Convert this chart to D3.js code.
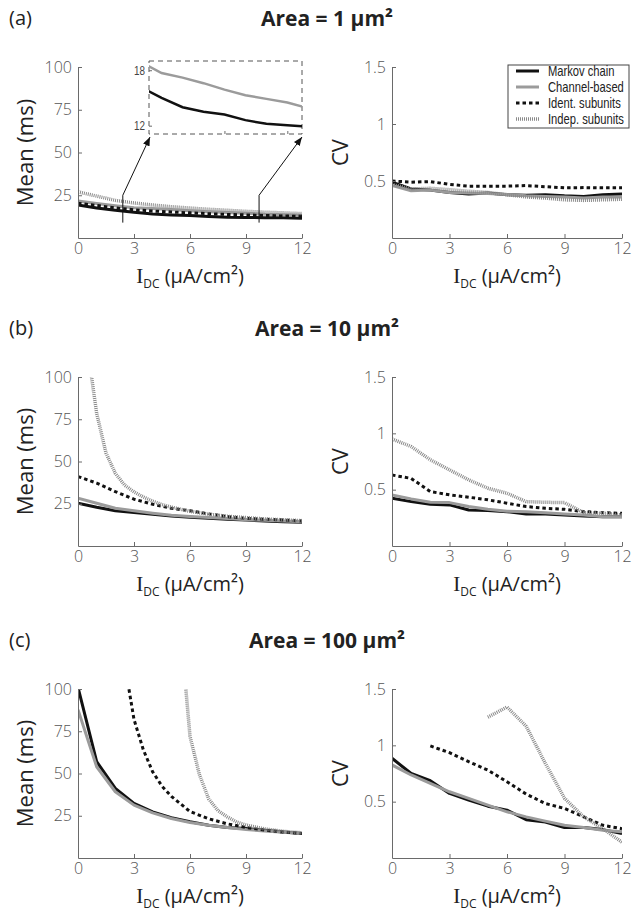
<!DOCTYPE html>
<html>
<head>
<meta charset="utf-8">
<script src="https://cdn.jsdelivr.net/npm/d3@7"></script>
<style>
  body { margin: 0; background: #fff; }
  text { font-family: "Open Sans", "Noto Sans", sans-serif; }
</style>
</head>
<body>
<div id="canvas"></div>
<script>
var width = 632
var height = 915

var current = [0, 1, 2, 3, 4, 5, 6, 7, 8, 9, 10, 11, 12]
var xTicks = [0, 3, 6, 9, 12]
var meanTicks = [25, 50, 75, 100]
var cvTicks = [0.5, 1, 1.5]
var legendNames = ["Markov chain", "Channel-based", "Ident. subunits", "Indep. subunits"]
var titles = ["Area = 1 \u03bcm\u00b2", "Area = 10 \u03bcm\u00b2", "Area = 100 \u03bcm\u00b2"]
var tags = ["(a)", "(b)", "(c)"]

// area = 1 um2
var mean1Markov = [19.3, 17.5, 16.2, 15.0, 14.0, 13.5, 13.2, 12.6, 12.2, 12.05, 11.9, 11.8, 11.6]
var mean1Channel = [21.6, 20.2, 18.9, 17.7, 17.2, 16.6, 15.9, 15.3, 14.9, 14.5, 13.9, 13.6, 13.3]
var mean1Ident = [20.3, 19.0, 17.6, 16.5, 15.8, 15.2, 14.7, 14.2, 13.8, 13.5, 13.2, 13.0, 12.8]
var mean1Indep = [27.0, 24.5, 22.0, 20.5, 19.3, 18.3, 17.5, 16.8, 16.2, 15.6, 15.1, 14.7, 14.3]
var cv1Markov = [0.49, 0.43, 0.42, 0.40, 0.385, 0.394, 0.38, 0.376, 0.38, 0.37, 0.365, 0.38, 0.385]
var cv1Channel = [0.46, 0.415, 0.42, 0.40, 0.395, 0.39, 0.382, 0.37, 0.365, 0.36, 0.35, 0.36, 0.36]
var cv1Ident = [0.50, 0.49, 0.495, 0.47, 0.455, 0.455, 0.455, 0.46, 0.45, 0.44, 0.442, 0.44, 0.44]
var cv1Indep = [0.47, 0.43, 0.436, 0.424, 0.41, 0.40, 0.38, 0.36, 0.35, 0.335, 0.33, 0.335, 0.34]

// area = 10 um2
var mean10Markov = [25.3, 22.9, 20.9, 19.8, 18.8, 17.8, 17.0, 16.4, 15.8, 15.4, 14.8, 14.4, 14.0]
var mean10Channel = [28.3, 25.3, 22.3, 20.8, 19.4, 18.2, 17.4, 16.8, 16.2, 15.6, 15.2, 14.8, 14.4]
var mean10Ident = [41.1, 37.2, 32.2, 27.7, 24.7, 22.3, 20.8, 19.0, 17.4, 16.4, 15.8, 15.4, 14.8]
var current10Indep = [0.5, 1, 1.5, 2, 2.5, 3, 3.5, 4, 4.5, 5, 6, 7, 8, 9, 10, 11, 12]
var mean10Indep = [118, 78.5, 55, 43, 36, 32, 29, 26.5, 24.5, 23, 20.5, 18.8, 17.6, 16.8, 16.0, 15.5, 15.0]
var cv10Markov = [0.424, 0.394, 0.37, 0.365, 0.32, 0.314, 0.305, 0.285, 0.285, 0.276, 0.267, 0.26, 0.26]
var cv10Channel = [0.454, 0.418, 0.388, 0.385, 0.35, 0.326, 0.308, 0.305, 0.296, 0.285, 0.276, 0.26, 0.26]
var cv10Ident = [0.63, 0.60, 0.483, 0.454, 0.433, 0.41, 0.38, 0.35, 0.335, 0.326, 0.305, 0.296, 0.29]
var cv10Indep = [0.95, 0.883, 0.765, 0.676, 0.587, 0.513, 0.468, 0.394, 0.388, 0.385, 0.296, 0.29, 0.276]

// area = 100 um2
var mean100Markov = [101, 57, 41.2, 32.3, 27.3, 23.8, 21.4, 19.4, 18.0, 17.4, 16.4, 15.4, 14.5]
var mean100Channel = [87.7, 54, 39.2, 31.3, 26.7, 23.4, 21.0, 19.4, 18.0, 16.8, 16.0, 15.2, 14.5]
var current100Ident = [2.5, 3, 3.5, 4, 4.5, 5, 6, 7, 8, 9, 10, 11, 12]
var mean100Ident = [115, 82, 64, 51, 42.5, 36.5, 27.5, 23.2, 20.2, 18.1, 16.5, 15.4, 14.5]
var current100Indep = [5.5, 6, 6.5, 7, 7.5, 8, 8.5, 9, 10, 11, 12]
var mean100Indep = [135, 72, 49.5, 35, 28, 24.3, 21.3, 19.5, 17.2, 15.8, 14.9]
var cv100Markov = [0.885, 0.75, 0.686, 0.573, 0.514, 0.46, 0.425, 0.34, 0.32, 0.27, 0.27, 0.252, 0.217]
var cv100Channel = [0.826, 0.737, 0.662, 0.588, 0.529, 0.469, 0.41, 0.365, 0.327, 0.29, 0.27, 0.247, 0.232]
var cv100Ident = [null, null, 0.995, 0.935, 0.855, 0.78, 0.677, 0.567, 0.484, 0.44, 0.365, 0.29, 0.26]
var cv100Indep = [null, null, null, null, null, 1.25, 1.34, 1.17, 0.84, 0.53, 0.365, 0.26, 0.14]

var styles = [
    { color: "#111", width: 3, dash: null },
    { color: "#9b9b9b", width: 3, dash: null },
    { color: "#111", width: 3, dash: "3.5,3" },
    { color: "#8a8a8a", width: 3.5, dash: "1,1" }
]

var rows = [
    { top: 67, bottom: 238, mean: [[current, mean1Markov], [current, mean1Channel], [current, mean1Ident], [current, mean1Indep]],
      cv: [cv1Markov, cv1Channel, cv1Ident, cv1Indep] },
    { top: 377, bottom: 546, mean: [[current, mean10Markov], [current, mean10Channel], [current, mean10Ident], [current10Indep, mean10Indep]],
      cv: [cv10Markov, cv10Channel, cv10Ident, cv10Indep] },
    { top: 689, bottom: 858, mean: [[current, mean100Markov], [current, mean100Channel], [current100Ident, mean100Ident], [current100Indep, mean100Indep]],
      cv: [cv100Markov, cv100Channel, cv100Ident, cv100Indep] }
]

var svg = d3.select("#canvas")
    .append("svg")
    .attr("width", width)
    .attr("height", height)

var defs = svg.append("defs")
defs.append("marker")
    .attr("id", "arrow")
    .attr("viewBox", "0 0 10 8")
    .attr("refX", 10)
    .attr("refY", 4)
    .attr("markerWidth", 9)
    .attr("markerHeight", 7)
    .attr("markerUnits", "userSpaceOnUse")
    .attr("orient", "auto")
    .append("path")
    .attr("d", "M0,0 L10,4 L0,8 z")
    .attr("fill", "#111")

var clipCount = 0

function styleAxis(g, size) {
    g.selectAll("path, line").attr("stroke", "#6a6a6a").attr("stroke-width", 1)
    g.selectAll("text")
        .attr("fill", "#555")
        .style("font-size", size + "px")
        .style("font-weight", 300)
        .style("font-family", "'Open Sans', sans-serif")
}

function drawPanel(box, yDomain, yTicks, yTitle, titleX, series) {
    var x = d3.scaleLinear().domain([0, 12]).range([box.left, box.right])
    var y = d3.scaleLinear().domain(yDomain).range([box.bottom, box.top])

    var id = "clip" + (clipCount++)
    defs.append("clipPath").attr("id", id)
        .append("rect")
        .attr("x", box.left).attr("y", box.top)
        .attr("width", box.right - box.left).attr("height", box.bottom - box.top)

    var plot = svg.append("g").attr("clip-path", "url(#" + id + ")")
    series.forEach(function (s, i) {
        var pts = s[0].map(function (v, j) { return [v, s[1][j]] })
        var line = d3.line()
            .defined(function (d) { return d[1] != null })
            .x(function (d) { return x(d[0]) })
            .y(function (d) { return y(d[1]) })
        plot.append("path")
            .attr("d", line(pts))
            .attr("fill", "none")
            .attr("stroke", styles[i].color)
            .attr("stroke-width", styles[i].width)
            .attr("stroke-dasharray", styles[i].dash)
            .attr("stroke-linejoin", "round")
    })

    var xAxis = svg.append("g")
        .attr("transform", `translate(0,${box.bottom})`)
        .call(d3.axisBottom(x).tickValues(xTicks).tickSizeInner(-4).tickSizeOuter(0).tickPadding(5))
    styleAxis(xAxis, 16)

    var yAxis = svg.append("g")
        .attr("transform", `translate(${box.left},0)`)
        .call(d3.axisLeft(y).tickValues(yTicks).tickSizeInner(-4).tickSizeOuter(0).tickPadding(6)
            .tickFormat(function (d) { return d }))
    styleAxis(yAxis, 16)

    svg.append("text")
        .attr("transform", `translate(${titleX},${(box.top + box.bottom) / 2}) rotate(-90)`)
        .attr("text-anchor", "middle")
        .attr("fill", "#222")
        .style("font-size", "22px")
        .text(yTitle)

    var xl = svg.append("text")
        .attr("x", (box.left + box.right) / 2)
        .attr("y", box.bottom + 45)
        .attr("text-anchor", "middle")
        .attr("fill", "#222")
        .style("font-size", "20px")
    xl.append("tspan").style("font-family", "'Liberation Serif', serif").style("font-size", "21px").text("I")
    xl.append("tspan").attr("dy", 5).style("font-size", "12px").text("DC")
    xl.append("tspan").attr("dy", -5).text(" (\u03bcA/cm\u00b2)")

    return { x: x, y: y }
}

rows.forEach(function (r, k) {
    var left = drawPanel({ left: 78, right: 302, top: r.top, bottom: r.bottom }, [0, 100], meanTicks, "Mean (ms)", 33, r.mean)
    drawPanel({ left: 392, right: 622, top: r.top, bottom: r.bottom }, [0, 1.5], cvTicks, "CV", 348,
        r.cv.map(function (v) { return [current, v] }))

    svg.append("text")
        .attr("x", 9).attr("y", r.top - 42)
        .attr("fill", "#222")
        .style("font-size", "20px")
        .text(tags[k])
    svg.append("text")
        .attr("x", 327).attr("y", r.top - 41)
        .attr("text-anchor", "middle")
        .attr("fill", "#222")
        .style("font-size", "21px")
        .style("font-weight", "bold")
        .text(titles[k])

    if (k == 0) drawInset(left)
})

// zoomed inset of the area = 1 mean plot
function drawInset(main) {
    var box = { left: 149, right: 302, top: 61, bottom: 134 }
    var ix = d3.scaleLinear().domain([2.4, 9.7]).range([box.left, box.right])
    var iy = d3.scaleLinear().domain([11.1, 19]).range([box.bottom, box.top])

    // arrows from the main plot to the inset corners
    ;[[2.4, box.left + 1], [9.7, box.right]].forEach(function (a) {
        svg.append("path")
            .attr("d", `M${main.x(a[0])},${main.y(9)} V${main.y(25)} L${a[1]},${box.bottom + 3}`)
            .attr("fill", "none")
            .attr("stroke", "#111")
            .attr("stroke-width", 1)
            .attr("marker-end", "url(#arrow)")
    })

    svg.append("rect")
        .attr("x", box.left).attr("y", box.top)
        .attr("width", box.right - box.left).attr("height", box.bottom - box.top)
        .attr("fill", "#fff")
        .attr("stroke", "#555")
        .attr("stroke-width", 1)
        .attr("stroke-dasharray", "5,4")

    defs.append("clipPath").attr("id", "insetClip")
        .append("rect")
        .attr("x", box.left).attr("y", box.top)
        .attr("width", box.right - box.left).attr("height", box.bottom - box.top)

    var g = svg.append("g").attr("clip-path", "url(#insetClip)")
    ;[[mean1Channel, styles[1].color], [mean1Markov, styles[0].color]].forEach(function (s) {
        var line = d3.line()
            .x(function (d, i) { return ix(current[i]) })
            .y(function (d) { return iy(d) })
        g.append("path")
            .attr("d", line(s[0]))
            .attr("fill", "none")
            .attr("stroke", s[1])
            .attr("stroke-width", 2.5)
    })

    var ya = svg.append("g")
        .attr("transform", `translate(${box.left},0)`)
        .call(d3.axisLeft(iy).tickValues([12, 18]).tickSizeInner(-3).tickSizeOuter(0).tickPadding(4))
    ya.select(".domain").remove()
    styleAxis(ya, 13)
    ya.selectAll("text").style("font-family", "'Liberation Sans', sans-serif").style("font-weight", 400)
        .attr("fill", "#444")
        .attr("textLength", 11).attr("lengthAdjust", "spacingAndGlyphs")

    var xa = svg.append("g")
        .attr("transform", `translate(0,${box.bottom})`)
        .call(d3.axisBottom(ix).tickValues([6, 9]).tickSizeInner(-3).tickSizeOuter(0).tickFormat(""))
    xa.select(".domain").remove()
    styleAxis(xa, 13)
}

// legend
var legend = svg.append("g").attr("transform", "translate(508,65)")
legend.append("rect")
    .attr("width", 121).attr("height", 63)
    .attr("fill", "#fff")
    .attr("stroke", "#444")
    .attr("stroke-width", 1)
legendNames.forEach(function (name, i) {
    var yy = 6 + i * 16
    legend.append("line")
        .attr("x1", 8).attr("x2", 31)
        .attr("y1", yy).attr("y2", yy)
        .attr("stroke", styles[i].color)
        .attr("stroke-width", styles[i].width)
        .attr("stroke-dasharray", styles[i].dash)
    // condensed look: squeeze the text horizontally
    legend.append("text")
        .attr("transform", `translate(40,${yy + 5}) scale(0.8,1)`)
        .attr("fill", "#222")
        .style("font-size", "14px")
        .style("font-family", "'Liberation Sans', sans-serif")
        .text(name)
})
</script>
</body>
</html>
